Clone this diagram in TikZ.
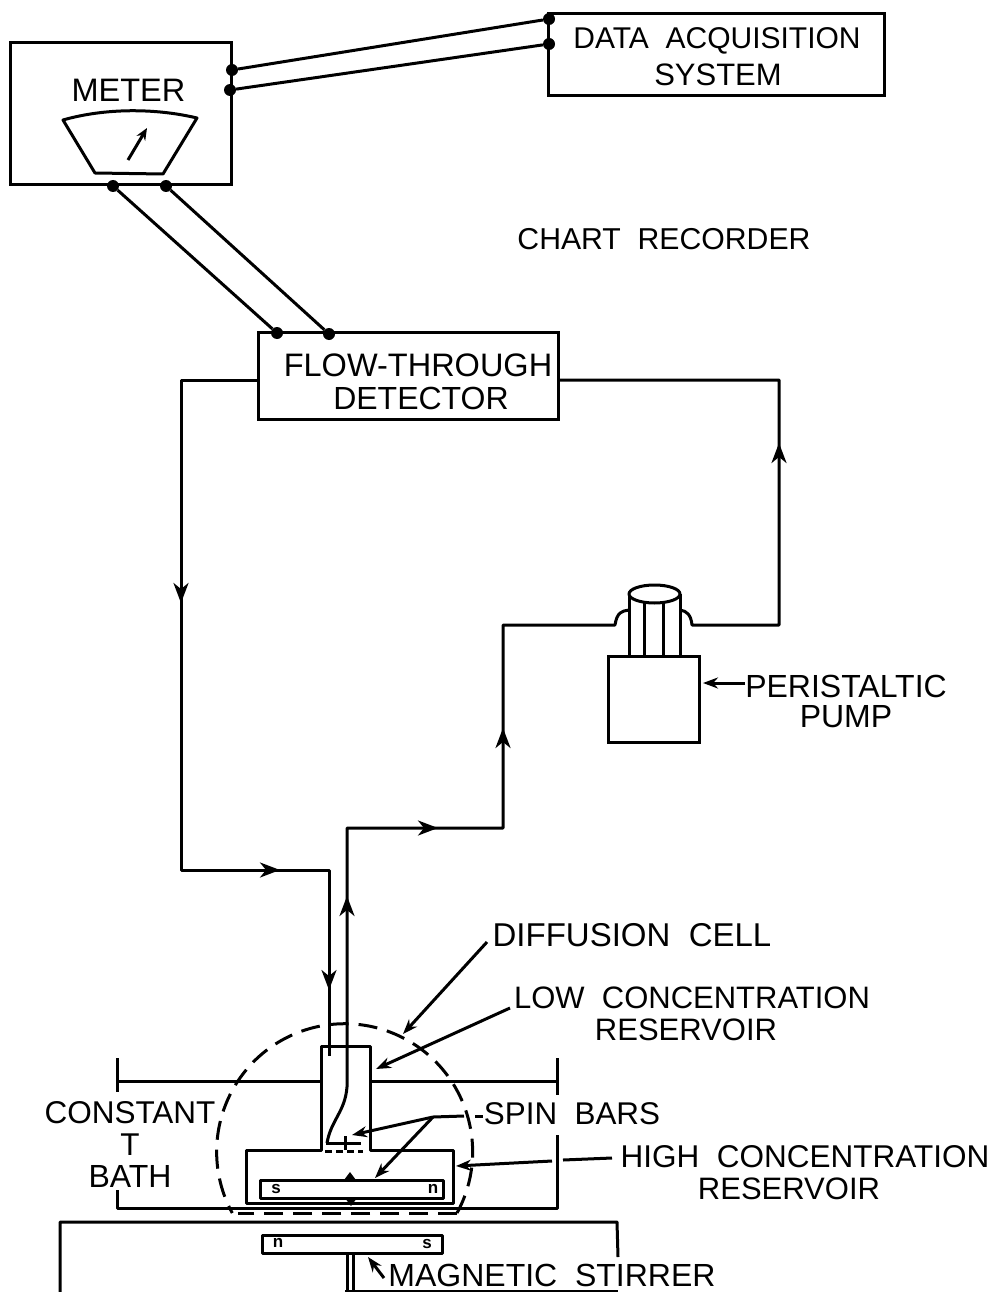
\documentclass[tikz,border=0pt]{standalone}
\usepackage{fontspec}
\setmainfont[WordSpace=2]{Liberation Sans}
\usetikzlibrary{arrows.meta}
\tikzset{
  plain/.style={line width=3pt,line join=round},
  boxnode/.style={draw,line width=3pt,inner sep=0pt,outer sep=0pt,anchor=north west},
  lbl/.style={inner sep=0pt,align=center,font=\fontsize{#1}{33}\selectfont},
  lbl/.default=31,
  pole/.style={font=\fontsize{17}{17}\selectfont\bfseries,inner sep=0pt},
  dot/.style={circle,fill=black,inner sep=0pt,minimum size=12pt},
  tip/.style={-{Stealth[length=20pt,width=15pt,inset=6pt]},line width=2.8pt},
  pointer/.style={-{Stealth[length=15pt,width=11pt]},line width=3pt},
}
\begin{document}
\begin{tikzpicture}[x=1pt,y=-1pt]
  \useasboundingbox (0,0) rectangle (993,1292);
  % boxes
  \node[boxnode,minimum width=221pt,minimum height=142pt] (meter) at (10,43) {};
  \node[boxnode,minimum width=336pt,minimum height=82pt] (daq) at (548,14) {};
  \node[boxnode,minimum width=300pt,minimum height=87pt] (detector) at (258,332) {};
  \node[boxnode,minimum width=91pt,minimum height=86pt] (pump) at (608,656) {};
  % labels
  \node[lbl=32.5] (meterlbl) at (128.5,90) {METER};
  \node[lbl=30] (daqlbl) at (717,41) {DATA ACQUISITION};
  \node[lbl] (systemlbl) at (718,75) {SYSTEM};
  \node[lbl=30.2] (chartlbl) at (664,239) {CHART RECORDER};
  \node[lbl=32.5] (flowlbl) at (418,365) {FLOW-THROUGH};
  \node[lbl=32] (detectlbl) at (421,398) {DETECTOR};
  \node[lbl=32] (perilbl) at (846,686) {PERISTALTIC};
  \node[lbl=32] (pumplbl) at (846,717) {PUMP};
  \node[lbl=33] (celllbl) at (632,935) {DIFFUSION CELL};
  \node[lbl] (lowlbl) at (692,998) {LOW CONCENTRATION};
  \node[lbl] (lowreslbl) at (686,1030) {RESERVOIR};
  \node[lbl=31.4] (spinlbl) at (572,1114) {SPIN BARS};
  \node[lbl=31.5] (highlbl) at (805,1157) {HIGH CONCENTRATION};
  \node[lbl] (highreslbl) at (789,1189) {RESERVOIR};
  \node[lbl=31.5] (constlbl) at (130,1113) {CONSTANT};
  \node[lbl=31.5] (tlbl) at (130,1145) {T};
  \node[lbl=32] (bathlbl) at (130,1176) {BATH};
  \node[lbl=32] (stirlbl) at (552,1275) {MAGNETIC STIRRER};
  % meter dial
  \draw[plain] (63,120) .. controls (105,108) and (155,108) .. (197,118) -- (163,174) -- (95,173) -- cycle;
  \coordinate (needleA) at (128,160);
  \coordinate (needleB) at (147,128);
  \draw[-{Stealth[length=12pt,width=10pt]},line width=3pt] (needleA) -- (needleB);
  % wires
  \node[dot] (mr1) at (232,70) {};
  \node[dot] (mr2) at (230,90) {};
  \node[dot] (dq1) at (549,19) {};
  \node[dot] (dq2) at (549,44) {};
  \node[dot] (mb1) at (113,186) {};
  \node[dot] (mb2) at (166,186) {};
  \node[dot] (fd1) at (277,333) {};
  \node[dot] (fd2) at (329,334) {};
  \draw[plain] (mr1) -- (dq1);
  \draw[plain] (mr2) -- (dq2);
  \draw[plain] (mb1) -- (fd1);
  \draw[plain] (mb2) -- (fd2);
  % tubing
  \coordinate (fdl) at (258,380);
  \coordinate (fdr) at (558,380);
  \coordinate (cellin) at (329,1056);
  \coordinate (cellout) at (347,1046);
  \draw[plain] (fdl) -- (181,380) -- (181,870) -- (329,870) -- (cellin);
  \draw[plain] (cellout) -- (347,828) -- (503,828) -- (503,625) -- (615,625)
    .. controls (617,612) and (622,611) .. (629,610);
  \draw[plain] (680,610) .. controls (687,611) and (691,615) .. (692,625) -- (779,625) -- (779,380) -- (fdr);
  \foreach \xa/\ya/\xb/\yb in {181/575/181/603,255/870/280/870,329/960/329/990,347/925/347/896,
    415/828/438/828,503/755/503/728,779/470/779/443} {
    \draw[tip] (\xa,\ya) -- (\xb,\yb);
  }
  % pump head
  \draw[plain] (629,594) -- (629,656);
  \draw[plain] (680,594) -- (680,656);
  \draw[plain] (644,603) -- (644,656);
  \draw[plain] (663,603) -- (663,656);
  \draw[plain,fill=white] (654.5,594) ellipse (25.5 and 9);
  % bath and table
  \draw[plain] (117,1058) -- (117,1092);
  \draw[plain] (557,1058) -- (557,1095);
  \draw[plain] (117,1081) -- (321,1081);
  \draw[plain] (370,1081) -- (557,1081);
  \draw[plain] (117,1190) -- (117,1208) -- (557,1208) -- (557,1135);
  \draw[plain] (60,1292) -- (60,1222) -- (617,1222) -- (618,1257);
  % cell
  \draw[plain] (321,1150) -- (321,1046) -- (370,1046) -- (370,1150) -- (453,1150) -- (453,1203) -- (246,1203) -- (246,1150) -- cycle;
  \draw[plain] (347,1046) -- (347,1087) .. controls (345,1112) and (331,1120) .. (327,1143);
  \draw[plain] (326,1143) -- (361,1143);
  \draw[plain] (345,1136) -- (345,1150);
  \draw[plain,dash pattern=on 7pt off 4pt] (325,1151) -- (363,1151);
  \draw[plain] (260,1180) rectangle (443,1198);
  \fill (344,1180) -- (350,1172) -- (356,1180) -- cycle;
  \fill (345,1198) -- (357,1198) -- (351,1206) -- cycle;
  \node[pole] (s1) at (276,1189) {s};
  \node[pole] (n1) at (433,1189) {n};
  % stirrer
  \draw[plain] (262,1235) rectangle (442,1253);
  \node[pole] (n2) at (278,1243) {n};
  \node[pole] (s2) at (427,1244) {s};
  \draw[plain] (347,1253) -- (347,1292);
  \draw[plain] (353,1253) -- (353,1292);
  \draw[line width=1.5pt] (345,1291) -- (618,1291);
  % dashed envelope
  \draw[plain,dash pattern=on 19pt off 10pt] (457,1213) -- (238,1213);
  \draw[plain,dash pattern=on 19pt off 10pt] (457,1213) arc[start angle=28.6,end angle=-208.6,radius=128];
  % pointers
  \coordinate (fork) at (433,1117);
  \draw[pointer] (487,942) -- (403,1034);
  \draw[pointer] (510,1008) -- (376,1069);
  \draw[pointer] (745,683) -- (703,683);
  \draw[plain] (612,1158) -- (563,1160);
  \draw[pointer] (552,1161) -- (456,1166);
  \draw[pointer] (384,1278) -- (368,1257);
  \draw[plain] (464,1116) -- (fork);
  \draw[plain] (475,1116) -- (483,1116);
  \draw[pointer] (fork) -- (352,1135);
  \draw[pointer] (fork) -- (375,1178);
\end{tikzpicture}
\end{document}
